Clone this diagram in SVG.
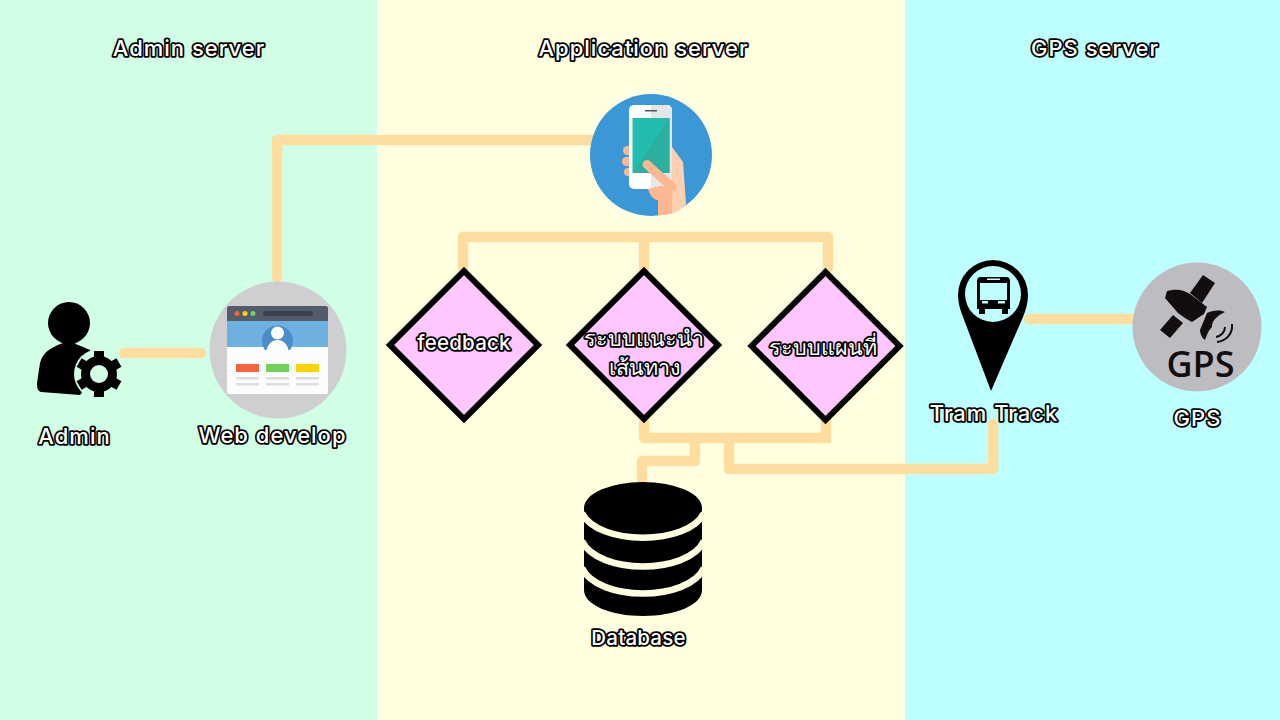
<svg xmlns="http://www.w3.org/2000/svg" width="1280" height="720" viewBox="0 0 1280 720">
<style>
.lbl{font-family:"Inter","Liberation Sans",sans-serif;font-weight:500;font-size:22px;letter-spacing:1px;fill:#fff;stroke:#000;stroke-width:3.6px;paint-order:stroke;stroke-linejoin:round;text-anchor:middle}
.sm{font-size:20.500px;letter-spacing:.2px}
.th{font-family:"Noto Sans","DejaVu Sans",sans-serif;font-size:21.500px;font-weight:400;letter-spacing:0}
.conn{fill:none;stroke:#ffdd9f;stroke-width:10.500;stroke-linecap:round;stroke-linejoin:round}
.dia{fill:#ffc6ff;stroke:#000;stroke-width:6}
</style>
<rect id="lane-admin" x="0" y="0" width="377" height="720" fill="#d0ffe6"/>
<rect id="lane-app" x="377" y="0" width="528" height="720" fill="#ffffdf"/>
<rect id="lane-gps" x="905" y="0" width="375" height="720" fill="#bdffff"/>
<g id="lane-titles">
<text class="lbl" x="189" y="56">Admin server</text>
<text class="lbl" x="643.500" y="56">Application server</text>
<text class="lbl" x="1095" y="56">GPS server</text>
</g>
<g id="connectors" class="conn">
<path d="M124 353H201"/>
<path d="M277 277V140H592"/>
<path d="M463 268V237H828V268M644 237V268"/>
<path d="M644 420V438H780"/>
<path d="M780 438H826V420" stroke-linejoin="miter"/>
<path d="M695 438V461H642V482"/>
<path d="M729 438V469H993V424"/>
<path d="M1029 319H1131"/>
</g>
<g id="admin">
<circle cx="69" cy="323" r="21"/>
<path d="M63 343C50 348 43 352 40 363L37 383C37 389 38 391 41 392L80 395L100 370L90 350C82 346 76 345 75 343Z"/>
<circle cx="99" cy="374" r="25" fill="#d0ffe6"/>
<g fill="#000"><circle cx="99" cy="374" r="18"/>
<rect x="94" y="351" width="10" height="46"/>
<rect x="94" y="351" width="10" height="46" transform="rotate(60 99 374)"/>
<rect x="94" y="351" width="10" height="46" transform="rotate(120 99 374)"/></g>
<circle cx="99" cy="374" r="9" fill="#d0ffe6"/>
<text class="lbl" x="74.500" y="444">Admin</text>
</g>
<g id="web-develop">
<circle cx="278" cy="350" r="68.500" fill="#cfcfd1"/>
<rect x="227" y="306" width="101" height="88" rx="2" fill="#fbfcfd"/>
<path d="M227 321V308a2 2 0 0 1 2-2h97a2 2 0 0 1 2 2V321Z" fill="#545b6b"/>
<rect x="227" y="321" width="101" height="26" fill="#6eb0e0"/>
<circle cx="237" cy="313.500" r="2.500" fill="#f4633a"/><circle cx="245" cy="313.500" r="2.500" fill="#ffd200"/><circle cx="253" cy="313.500" r="2.500" fill="#70d257"/>
<rect x="263" y="311" width="50" height="5" rx="2.500" fill="#3a404d"/>
<path d="M262 341a15.500 15.500 0 1 1 31 0a15.500 15.500 0 0 1-3 9h-25a15.500 15.500 0 0 1-3-9Z" fill="#4b8ccb"/>
<circle cx="277.500" cy="333" r="6.500" fill="#fbfcfd"/>
<path d="M266 356C266 345 271 340 277.500 340S289 345 289 356Z" fill="#fbfcfd"/>
<rect x="236" y="364" width="23" height="8" fill="#f4633a"/><rect x="266" y="364" width="23" height="8" fill="#70d257"/><rect x="296" y="364" width="23" height="8" fill="#ffd200"/>
<g fill="#dedee0"><rect x="236" y="377" width="23" height="2.500"/><rect x="266" y="377" width="23" height="2.500"/><rect x="296" y="377" width="23" height="2.500"/><rect x="236" y="383" width="23" height="2.500"/><rect x="266" y="383" width="23" height="2.500"/><rect x="296" y="383" width="23" height="2.500"/></g>
<text class="lbl" x="272.500" y="443">Web develop</text>
</g>
<g id="mobile">
<circle cx="651" cy="155" r="61" fill="#3a98d6"/>
<g fill="#fdb891"><rect x="623" y="146" width="12" height="9" rx="4.500"/><rect x="622" y="157" width="12" height="9" rx="4.500"/><rect x="624" y="168" width="12" height="8" rx="4"/></g>
<path d="M672 147L683 162L686 204C682 209 678 212 672 213.500L660 190L672 170Z" fill="#fed0b1"/>
<rect x="629" y="105" width="43" height="84" rx="5" fill="#fff"/>
<path d="M651 105H667a5 5 0 0 1 5 5V184a5 5 0 0 1-5 5H651Z" fill="#e6e6e6"/>
<rect x="645" y="110" width="12" height="1.500" fill="#4d5565"/>
<rect x="632.500" y="118" width="37" height="55" fill="#22bcae"/>
<path d="M669.500 118V173H633Z" fill="#2bb0a0"/>
<path d="M648 189C650 196 654 200 658 200V215.300C664 215 668 214.500 672 213.500V186H660Z" fill="#fdb891"/>
<path d="M647 164.500L672 187" fill="none" stroke="#fdb891" stroke-width="9" stroke-linecap="round"/>
</g>
<g id="feedback">
<path class="dia" d="M464 271L538 345L464 419L390 345Z"/>
<text class="lbl sm" x="464" y="350">feedback</text>
</g>
<g id="route">
<path class="dia" d="M644 271L718 345L644 419L570 345Z"/>
<text class="lbl th" x="644" y="346">ระบบแนะนำ</text>
<text class="lbl th" x="644" y="375">เส้นทาง</text>
</g>
<g id="map">
<path class="dia" d="M825.500 272L899.500 346L825.500 420L751.500 346Z"/>
<text class="lbl th" x="823" y="355">ระบบแผนที่</text>
</g>
<g id="database">
<path d="M584 508A59 26 0 0 1 702 508V590C702 605 675 616 643 616S584 605 584 590Z"/>
<g fill="none" stroke="#ffffdf" stroke-width="6.500"><path d="M582 513C598 546 688 546 704 513"/><path d="M582 541C598 575 688 575 704 541"/><path d="M582 568C598 602 688 602 704 568"/></g>
<text class="lbl sm" x="638.500" y="645">Database</text>
</g>
<g id="tram-track">
<path fill-rule="evenodd" d="M993 260A35 35 0 0 1 1028 295C1028 302 1026 310 1023 317L991 391L963 317C960 310 958 302 958 295A35 35 0 0 1 993 260ZM993 266A28 28 0 1 0 993 322A28 28 0 1 0 993 266Z"/>
<path d="M981 277H1006a4 4 0 0 1 4 4V309h-2V314h-6V309H985V314H979V309H977V281a4 4 0 0 1 4-4Z"/>
<g fill="#bdffff"><rect x="980" y="283" width="27" height="17"/><rect x="982" y="301" width="6" height="2.500"/><rect x="998" y="301" width="7" height="2.500"/><rect x="987" y="278.500" width="13" height="1.500"/></g>
<text class="lbl" x="994" y="421">Tram Track</text>
</g>
<g id="gps">
<circle cx="1197" cy="327" r="64.500" fill="#bdbdc1"/>
<g fill="#120e0f">
<path d="M1203 275L1215 283L1202 303L1190 293Z"/>
<path d="M1173 315L1183 323L1170 338L1160 330Z"/>
<path d="M1167 291L1172 290C1178 289 1184 290 1190 294L1207 307L1204 314L1192 322C1186 319 1182 316 1178 313L1165 298Z"/>
<path d="M1225 312C1218 309 1212 311 1207 313L1200 330C1200 334 1202 338 1205 340C1207 335 1208 331 1212 327C1212 320 1217 316 1225 312Z"/>
</g>
<g fill="none" stroke="#120e0f" stroke-width="2"><path d="M1225 327C1225 332 1221 336 1216 337"/><path d="M1232 324C1233 334 1226 341 1217 342"/></g>
<text x="1200.500" y="377" text-anchor="middle" font-family="'Open Sans','Noto Sans',sans-serif" font-weight="600" font-size="36" fill="#120e0f">GPS</text>
<text class="lbl" x="1197.500" y="426">GPS</text>
</g>
</svg>
